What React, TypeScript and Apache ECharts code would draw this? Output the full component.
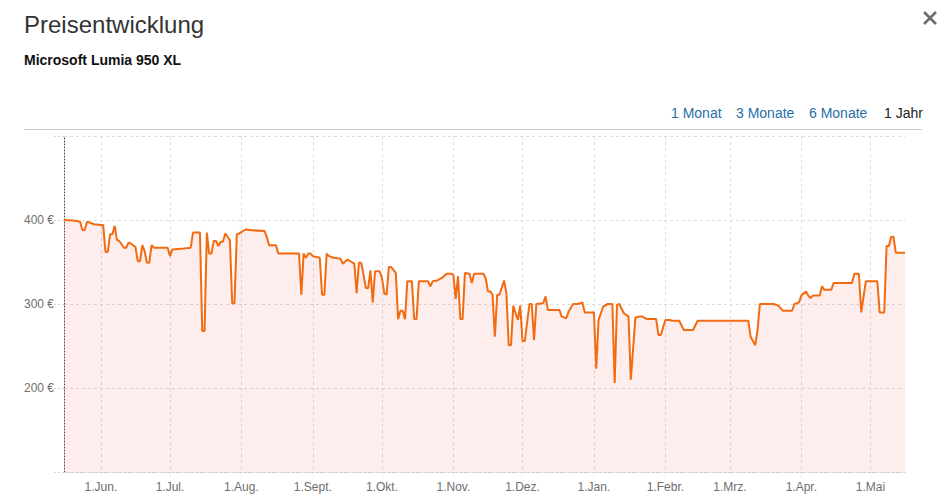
import { useEffect, useRef } from "react";
import * as echarts from "echarts";

const START_DATE = "2016-05-16";
const END_DATE = "2017-05-16";

// day offset from START_DATE and price (EUR) at that day
const dayOffsets = [
  0, 5, 7, 8, 9, 10, 13, 16, 17, 18, 19, 20, 21, 22, 23, 24, 26, 27, 28, 29, 30, 31, 32, 33, 34, 35, 36, 37, 38, 39,
  45, 46, 47, 52, 55, 56, 59, 60, 61, 62, 63, 64, 65, 66, 67, 68, 69, 70, 71, 72, 73, 74, 75, 76, 79, 80, 87, 88, 89, 92,
  93, 102, 103, 104, 105, 106, 107, 108, 111, 112, 113, 114, 115, 117, 120, 121, 123, 126, 127, 128, 129, 130, 131, 132,
  133, 134, 135, 137, 138, 139, 140, 141, 142, 144, 145, 146, 147, 148, 149, 151, 152, 153, 154, 158, 159, 160, 162, 164,
  166, 168, 169, 170, 171, 172, 173, 174, 176, 177, 178, 182, 183, 184, 185, 186, 187, 188, 189, 191, 192, 193, 194, 195,
  196, 197, 198, 199, 200, 202, 203, 204, 205, 208, 209, 210, 215, 216, 218, 219, 221, 223, 225, 226, 230, 231, 232, 234,
  236, 238, 239, 240, 241, 243, 245, 246, 248, 250, 251, 253, 257, 258, 259, 261, 263, 264, 267, 269, 273, 275, 297, 298,
  300, 301, 302, 308, 310, 312, 316, 317, 319, 320, 322, 323, 324, 325, 328, 329, 330, 333, 334, 342, 343, 345, 346, 348,
  353, 354, 356, 357, 358, 359, 360, 361, 365,
];
const prices = [
  400, 399, 398, 388, 388, 398, 395, 394, 394, 362, 362, 383, 383, 393, 376, 375, 367, 367, 373, 372, 370, 368, 351, 351, 370, 363, 349, 349, 370, 367,
  367, 357, 365, 366, 367, 385, 385, 268, 268, 385, 360, 360, 375, 375, 369, 374, 374, 384, 380, 376, 301, 301, 383, 384, 389, 388, 387, 380, 370, 370,
  360, 360, 311, 360, 355, 360, 360, 357, 355, 311, 311, 360, 357, 355, 354, 348, 353, 348, 313, 349, 349, 335, 319, 319,
  340, 302, 339, 339, 331, 313, 311, 344, 344, 337, 282, 292, 292, 282, 327, 327, 282, 282, 327, 327, 321, 327, 328, 331,
  336, 336, 335, 306, 333, 282, 282, 337, 336, 325, 336, 336, 331, 315, 315, 311, 261, 311, 311, 328, 313, 251, 251, 298,
  289, 281, 298, 256, 256, 300, 300, 257, 300, 301, 309, 293, 293, 285, 283, 291, 300, 300, 302, 290, 290, 223, 281, 297,
  300, 300, 206, 299, 300, 289, 285, 210, 284, 285, 285, 282, 282, 263, 263, 281, 281, 280, 280, 269, 269, 280, 280, 261,
  251, 269, 300, 300, 298, 292, 292, 300, 302, 310, 315, 310, 307, 310, 310, 321, 317, 317, 325, 325, 336, 336, 290, 327,
  327, 290, 290, 369, 369, 380, 380, 361, 361,
];

const tickDates = [
  "2016-06-01", "2016-07-01", "2016-08-01", "2016-09-01", "2016-10-01", "2016-11-01",
  "2016-12-01", "2017-01-01", "2017-02-01", "2017-03-01", "2017-04-01", "2017-05-01",
];
const tickLabels = [
  "1.Jun.", "1.Jul.", "1.Aug.", "1.Sept.", "1.Okt.", "1.Nov.",
  "1.Dez.", "1.Jan.", "1.Febr.", "1.Mrz.", "1.Apr.", "1.Mai",
];
const yMin = 100;
const yMax = 500;
const yInterval = 100;
const yLabelValues = [200, 300, 400];

const titleText = "Preisentwicklung";
const productName = "Microsoft Lumia 950 XL";
const rangeLinks = ["1 Monat", "3 Monate", "6 Monate", "1 Jahr"];

const FONT = '"Liberation Sans", Arial, Helvetica, sans-serif';

function toTime(s: string, addDays = 0): number {
  const [y, m, d] = s.split("-").map(Number);
  return new Date(y, m - 1, d + addDays).getTime();
}

export default function App() {
  const ref = useRef<HTMLDivElement>(null);

  useEffect(() => {
    if (!ref.current) return;
    const chart = echarts.init(ref.current, undefined, { renderer: "svg" });
    const tickTimes = tickDates.map((s) => toTime(s));
    const data = dayOffsets.map((d, i) => [toTime(START_DATE, d), prices[i]]);
    const linkX = [671, 736, 809, 884];

    chart.setOption({
      animation: false,
      backgroundColor: "#ffffff",
      grid: { left: 64, right: 38, top: 136, bottom: 31, containLabel: false },
      xAxis: {
        type: "value",
        min: toTime(START_DATE),
        max: toTime(END_DATE),
        axisLine: { show: true, onZero: false, lineStyle: { color: "#d0d0d0", type: [2, 2], width: 1 } },
        axisTick: {
          show: true,
          customValues: tickTimes,
          length: 5,
          lineStyle: { color: "#d8d8d8", type: [2, 2] },
        },
        axisLabel: {
          customValues: tickTimes,
          formatter: (v: number) => {
            const i = tickTimes.findIndex((t) => Math.abs(t - v) < 43200000);
            return i >= 0 ? tickLabels[i] : "";
          },
          color: "#6e6e6e",
          fontSize: 12,
          fontFamily: FONT,
          margin: 9,
        },
        splitLine: { show: true, lineStyle: { color: "#dcdcdc", type: [3, 3], width: 1 } },
      },
      yAxis: {
        type: "value",
        min: yMin,
        max: yMax,
        interval: yInterval,
        axisLine: { show: true, lineStyle: { color: "#5a4545", type: [1, 2], width: 1 } },
        axisTick: { show: true, length: 10, lineStyle: { color: "#d8d8d8", type: [2, 2] } },
        axisLabel: {
          formatter: (v: number) => (yLabelValues.includes(v) ? `${v} €` : ""),
          color: "#6e6e6e",
          fontSize: 12,
          fontFamily: FONT,
          margin: 10,
        },
        splitLine: { show: true, lineStyle: { color: "#dcdcdc", type: [3, 3], width: 1 } },
      },
      series: [
        {
          type: "line",
          data,
          showSymbol: false,
          symbol: "none",
          lineStyle: { color: "#f26b10", width: 2 },
          areaStyle: { color: "rgba(228, 60, 60, 0.13)", origin: "start" },
          z: 3,
        },
      ],
      graphic: [
        {
          type: "text",
          x: 24,
          y: 24,
          style: {
            text: titleText,
            font: `24px ${FONT}`,
            fill: "#333333",
            textAlign: "left",
            textVerticalAlign: "middle",
            align: "left",
            verticalAlign: "middle",
          },
        },
        {
          type: "text",
          x: 24,
          y: 60,
          style: {
            text: productName,
            font: `bold 14px ${FONT}`,
            fill: "#111111",
            textAlign: "left",
            textVerticalAlign: "middle",
            align: "left",
            verticalAlign: "middle",
          },
        },
        ...rangeLinks.map((t, i) => ({
          type: "text",
          x: linkX[i],
          y: 113,
          style: {
            text: t,
            font: `14px ${FONT}`,
            fill: i === rangeLinks.length - 1 ? "#222222" : "#2770a8",
            textAlign: "left",
            textVerticalAlign: "middle",
            align: "left",
            verticalAlign: "middle",
          },
        })),
        {
          type: "line",
          shape: { x1: 24, y1: 129.5, x2: 922, y2: 129.5 },
          style: { stroke: "#cccccc", lineWidth: 1 },
        },
        {
          type: "line",
          shape: { x1: 924, y1: 12, x2: 936, y2: 24 },
          style: { stroke: "#6e6e6e", lineWidth: 2.6 },
        },
        {
          type: "line",
          shape: { x1: 936, y1: 12, x2: 924, y2: 24 },
          style: { stroke: "#6e6e6e", lineWidth: 2.6 },
        },
      ],
    });
    return () => chart.dispose();
  }, []);

  return (
    <div
      ref={ref}
      style={{ position: "fixed", left: 0, top: 0, width: 943, height: 503, background: "#fff" }}
    />
  );
}
